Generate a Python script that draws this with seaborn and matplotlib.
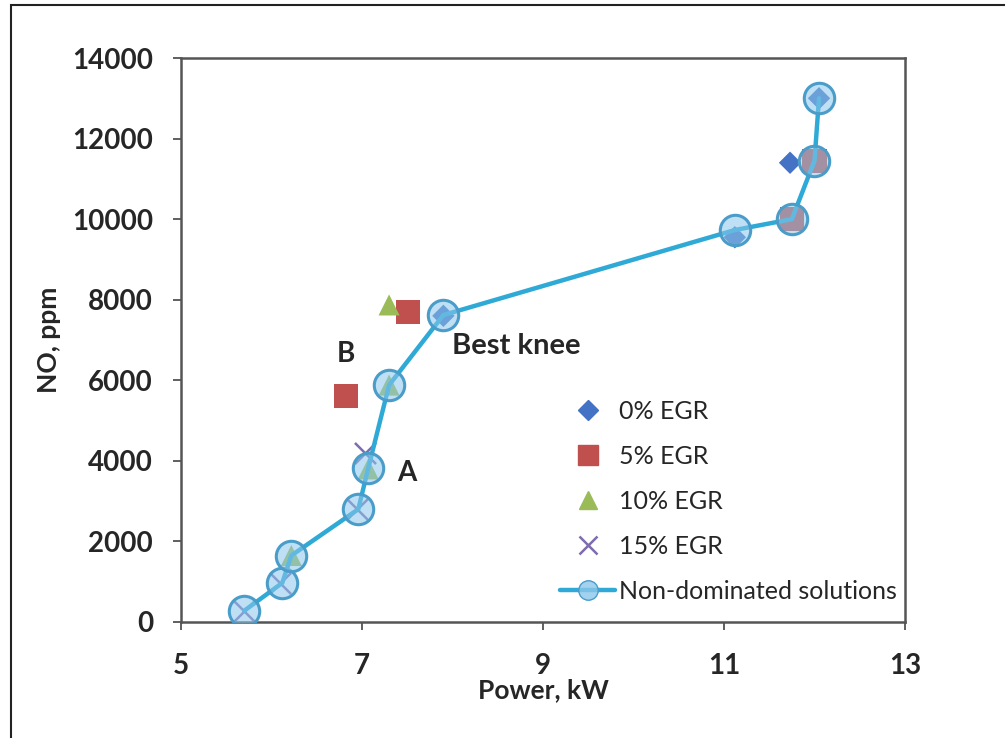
import matplotlib
matplotlib.use("Agg")
import matplotlib.pyplot as plt
from matplotlib.lines import Line2D
from matplotlib.patches import Rectangle
import seaborn as sns
import pandas as pd

# Engine operating points by EGR rate: power (kW) vs NO (ppm)
egr0_power = [7.90, 11.12, 11.73, 12.05]
egr0_no = [7600, 9550, 11400, 13000]
egr5_power = [6.82, 7.51, 11.75, 12.00]
egr5_no = [5600, 7700, 10000, 11450]
egr10_power = [7.30, 7.30, 7.07, 6.22]
egr10_no = [7870, 5880, 3800, 1650]
egr15_power = [7.03, 6.95, 6.10, 5.70]
egr15_no = [4200, 2800, 970, 280]

# Pareto front
front_power = [5.70, 6.12, 6.22, 6.96, 7.07, 7.30, 7.90, 11.12, 11.75, 12.00, 12.05]
front_no = [280, 970, 1650, 2800, 3820, 5880, 7620, 9730, 10000, 11450, 13000]

x_ticks = [5, 7, 9, 11, 13]
y_ticks = [0, 2000, 4000, 6000, 8000, 10000, 12000, 14000]

sns.set_theme(style="white")
plt.rcParams["font.family"] = ["Lato", "DejaVu Sans"]

fig = plt.figure(figsize=(10.05, 7.38), dpi=100)
ax = fig.add_axes([0.180, 0.1572, 0.7205, 0.7642])

# Thin frame around the whole chart area
fig.patches.append(Rectangle((0.011, -0.05), 1.2, 1.043, transform=fig.transFigure,
                             fill=False, edgecolor="#222222", linewidth=1.5))

series = [
    ("0% EGR", egr0_power, egr0_no, "D", "#4472C4", 130),
    ("5% EGR", egr5_power, egr5_no, "s", "#C0504D", 300),
    ("10% EGR", egr10_power, egr10_no, "^", "#9BBB59", 230),
    ("15% EGR", egr15_power, egr15_no, "x", "#7E6BB0", 230),
]
for label, xs, ys, mk, col, size in series:
    df = pd.DataFrame({"power": xs, "no": ys})
    kw = dict(linewidth=1.8) if mk == "x" else dict(edgecolor="none")
    sns.scatterplot(data=df, x="power", y="no", marker=mk, color=col, s=size,
                    ax=ax, zorder=3, **kw)

front = pd.DataFrame({"power": front_power, "no": front_no})
sns.lineplot(data=front, x="power", y="no", sort=False, estimator=None,
             color="#2FA9D6", linewidth=3.2, ax=ax, zorder=4)
ax.scatter(front_power, front_no, s=480, facecolor=(0.55, 0.78, 0.92, 0.55),
           edgecolor="#4A9CC9", linewidth=2.2, zorder=5)

ax.set_xlim(5, 13)
ax.set_ylim(0, 14000)
ax.set_xticks(x_ticks)
ax.set_yticks(y_ticks)
ax.set_xticklabels([str(v) for v in x_ticks], fontsize=20, fontweight="bold")
ax.set_yticklabels([str(v) for v in y_ticks], fontsize=20, fontweight="bold")
ax.tick_params(axis="both", direction="out", length=6, width=1.2, color="#444444",
               bottom=True, left=True)
ax.tick_params(axis="x", pad=16)
ax.tick_params(axis="y", pad=14)
for sp in ax.spines.values():
    sp.set_color("#555555")
    sp.set_linewidth(1.8)
ax.grid(False)

ax.set_xlabel("Power, kW", fontsize=19, fontweight="bold", labelpad=0)
ax.set_ylabel("NO, ppm", fontsize=19, fontweight="bold", labelpad=8)

ax.text(6.82, 6650, "B", fontsize=20, fontweight="bold", ha="center", va="center")
ax.text(7.50, 3700, "A", fontsize=20, fontweight="bold", ha="center", va="center")
ax.text(8.70, 6850, "Best knee", fontsize=21, fontweight="bold", ha="center", va="center")

handles = [
    Line2D([], [], linestyle="none", marker="D", color="#4472C4", markersize=10),
    Line2D([], [], linestyle="none", marker="s", color="#C0504D", markersize=14),
    Line2D([], [], linestyle="none", marker="^", color="#9BBB59", markersize=13),
    Line2D([], [], linestyle="none", marker="x", color="#7E6BB0", markersize=13,
           markeredgewidth=1.8),
    Line2D([], [], color="#2FA9D6", linewidth=3.2, marker="o", markersize=14,
           markerfacecolor=(0.55, 0.78, 0.92, 0.8), markeredgecolor="#4A9CC9"),
]
labels = ["0% EGR", "5% EGR", "10% EGR", "15% EGR", "Non-dominated solutions"]
ax.legend(handles, labels, loc="upper left", bbox_to_anchor=(0.535, 0.489),
          bbox_transform=fig.transFigure, frameon=False, fontsize=18,
          handlelength=2.2, handletextpad=0.15, labelspacing=0.88)

fig.savefig("out.png", dpi=100)
